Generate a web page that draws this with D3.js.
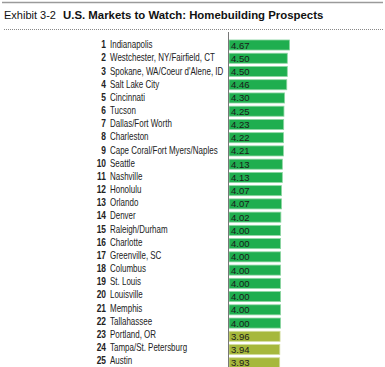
<!DOCTYPE html>
<html><head><meta charset="utf-8">
<script src="https://cdn.jsdelivr.net/npm/d3@7/dist/d3.min.js"></script>
<style>body{margin:0;background:#fff}svg{display:block}</style>
</head><body>
<script>
const markets = ["Indianapolis","Westchester, NY/Fairfield, CT","Spokane, WA/Coeur d'Alene, ID","Salt Lake City","Cincinnati","Tucson","Dallas/Fort Worth","Charleston","Cape Coral/Fort Myers/Naples","Seattle","Nashville","Honolulu","Orlando","Denver","Raleigh/Durham","Charlotte","Greenville, SC","Columbus","St. Louis","Louisville","Memphis","Tallahassee","Portland, OR","Tampa/St. Petersburg","Austin"];
const ranks = d3.range(1, 26);
const scores = [4.67,4.50,4.50,4.46,4.30,4.25,4.23,4.22,4.21,4.13,4.13,4.07,4.07,4.02,4.00,4.00,4.00,4.00,4.00,4.00,4.00,4.00,3.96,3.94,3.93];
const titleLead = "Exhibit 3-2";
const titleMain = "U.S. Markets to Watch: Homebuilding Prospects";

const W = 385, H = 367;
const svg = d3.select("body").append("svg").attr("width", W).attr("height", H);

svg.append("line").attr("x1", 2).attr("x2", 383).attr("y1", 2.5).attr("y2", 2.5)
  .attr("stroke", "#9a9a9a").attr("stroke-width", 1.5);
const title = svg.append("text").attr("x", 4).attr("y", 18.5)
  .attr("font-family", "Liberation Sans, Arial, sans-serif").attr("fill", "#111");
title.append("tspan").attr("font-size", 11).text(titleLead);
title.append("tspan").attr("font-size", 11.4).attr("font-weight", "bold").attr("dx", 7).text(titleMain);
svg.append("line").attr("x1", 4).attr("x2", 383).attr("y1", 29.5).attr("y2", 29.5)
  .attr("stroke", "#888").attr("stroke-width", 1).attr("stroke-dasharray", "1,1");

const x = d3.scaleLinear().domain([0, 5]).range([227, 294]);
const y = d3.scaleBand().domain(markets).range([36.8, 371]).paddingInner(0.24).paddingOuter(0.24);
const yl = d3.scalePoint().domain(markets).range([48.3, 364.3]);
const data = markets.map((m, i) => ({m, r: ranks[i], v: scores[i]}));

svg.selectAll("rect.bar").data(data).enter().append("rect")
  .attr("class", "bar")
  .attr("x", x(0) + 2)
  .attr("y", d => y(d.m))
  .attr("width", d => x(d.v) - x(0) - 2)
  .attr("height", y.bandwidth())
  .attr("fill", d => d.v >= 4 ? "#1fae4f" : "#a6b83c")
  .attr("stroke", d => d.v >= 4 ? "#8fd6a3" : "#d2dc9c").attr("stroke-width", 0.8);

svg.append("line").attr("x1", 228.5).attr("x2", 228.5).attr("y1", 32).attr("y2", H)
  .attr("stroke", "#777").attr("stroke-width", 1);

svg.selectAll("text.val").data(data).enter().append("text")
  .attr("class", "val")
  .attr("x", 231).attr("y", d => y(d.m) + y.bandwidth() / 2 + 3.5)
  .attr("font-family", "Liberation Sans, Arial, sans-serif").attr("font-size", 9.5)
  .attr("fill", "#1a1a1a").text(d => d.v.toFixed(2));

const lab = svg.append("g").attr("font-family", "Liberation Sans, Arial, sans-serif")
  .attr("font-size", 10.5).attr("fill", "#222");
lab.selectAll("text.rank").data(data).enter().append("text")
  .attr("class", "rank")
  .attr("transform", d => `translate(106,${yl(d.m)}) scale(0.8,1)`)
  .attr("text-anchor", "end").attr("font-weight", "bold").text(d => d.r);
lab.selectAll("text.name").data(data).enter().append("text")
  .attr("class", "name")
  .attr("transform", d => `translate(110,${yl(d.m)}) scale(0.76,1)`)
  .text(d => d.m);
</script>
</body></html>
